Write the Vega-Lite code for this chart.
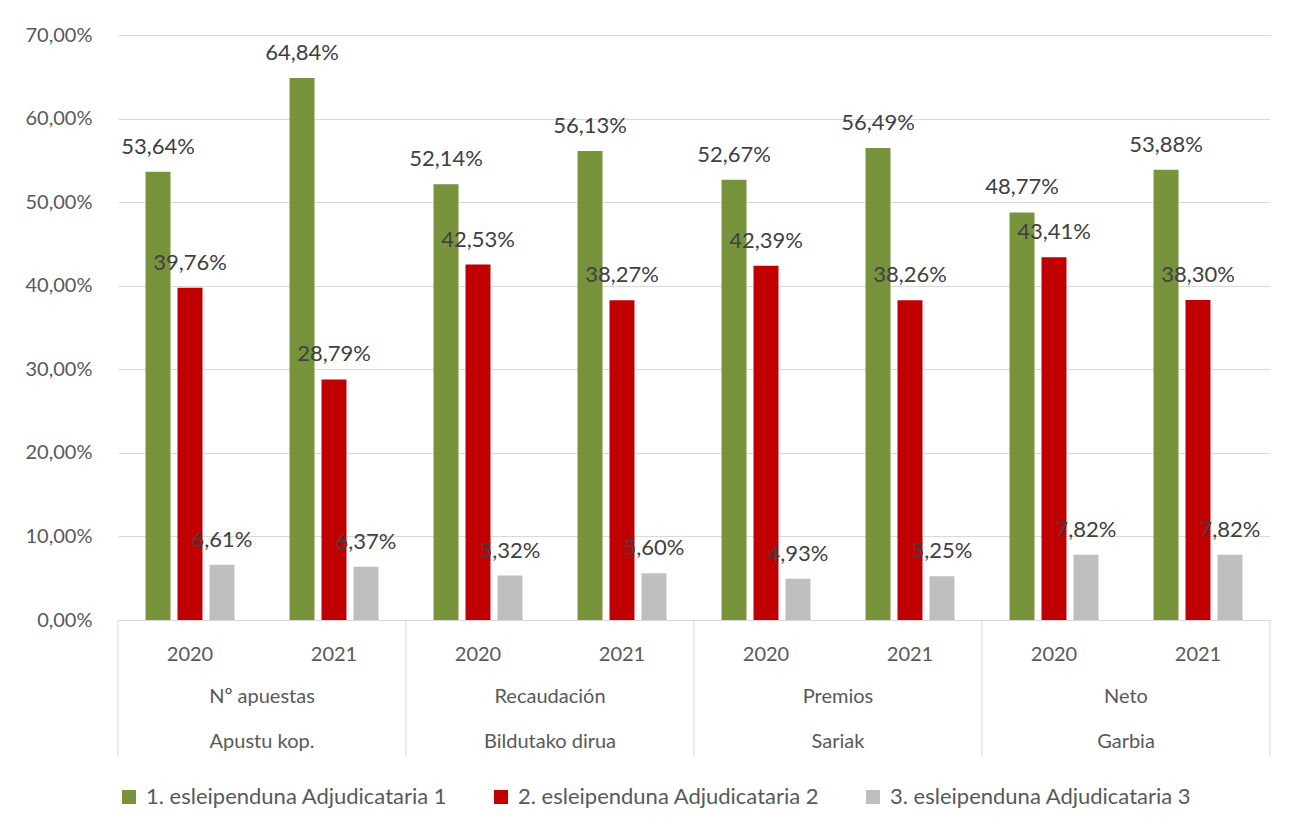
{
  "$schema": "https://vega.github.io/schema/vega-lite/v6.json",
  "width": 1152,
  "height": 585,
  "autosize": {"type": "none"},
  "padding": {"left": 118, "top": 35, "right": 36, "bottom": 212},
  "background": "white",
  "config": {
    "locale": {"number": {"decimal": ",", "thousands": ".", "grouping": [3], "currency": ["", " €"]}},
    "font": "Lato",
    "view": {"stroke": null},
    "axis": {"labelFont": "Lato", "labelFontSize": 20, "labelColor": "#595959"},
    "legend": {"labelFont": "Lato"}
  },
  "data": {
    "values": [
      {"grupo": "Nº apuestas|2020", "categoria": "Nº apuestas", "kategoria": "Apustu kop.", "urtea": "2020", "serie": "1. esleipenduna Adjudicataria 1", "valor": 0.5364},
      {"grupo": "Nº apuestas|2020", "categoria": "Nº apuestas", "kategoria": "Apustu kop.", "urtea": "2020", "serie": "2. esleipenduna Adjudicataria 2", "valor": 0.3976},
      {"grupo": "Nº apuestas|2020", "categoria": "Nº apuestas", "kategoria": "Apustu kop.", "urtea": "2020", "serie": "3. esleipenduna Adjudicataria 3", "valor": 0.0661},
      {"grupo": "Nº apuestas|2021", "categoria": "Nº apuestas", "kategoria": "Apustu kop.", "urtea": "2021", "serie": "1. esleipenduna Adjudicataria 1", "valor": 0.6484},
      {"grupo": "Nº apuestas|2021", "categoria": "Nº apuestas", "kategoria": "Apustu kop.", "urtea": "2021", "serie": "2. esleipenduna Adjudicataria 2", "valor": 0.2879},
      {"grupo": "Nº apuestas|2021", "categoria": "Nº apuestas", "kategoria": "Apustu kop.", "urtea": "2021", "serie": "3. esleipenduna Adjudicataria 3", "valor": 0.0637},
      {"grupo": "Recaudación|2020", "categoria": "Recaudación", "kategoria": "Bildutako dirua", "urtea": "2020", "serie": "1. esleipenduna Adjudicataria 1", "valor": 0.5214},
      {"grupo": "Recaudación|2020", "categoria": "Recaudación", "kategoria": "Bildutako dirua", "urtea": "2020", "serie": "2. esleipenduna Adjudicataria 2", "valor": 0.4253},
      {"grupo": "Recaudación|2020", "categoria": "Recaudación", "kategoria": "Bildutako dirua", "urtea": "2020", "serie": "3. esleipenduna Adjudicataria 3", "valor": 0.0532},
      {"grupo": "Recaudación|2021", "categoria": "Recaudación", "kategoria": "Bildutako dirua", "urtea": "2021", "serie": "1. esleipenduna Adjudicataria 1", "valor": 0.5613},
      {"grupo": "Recaudación|2021", "categoria": "Recaudación", "kategoria": "Bildutako dirua", "urtea": "2021", "serie": "2. esleipenduna Adjudicataria 2", "valor": 0.3827},
      {"grupo": "Recaudación|2021", "categoria": "Recaudación", "kategoria": "Bildutako dirua", "urtea": "2021", "serie": "3. esleipenduna Adjudicataria 3", "valor": 0.056},
      {"grupo": "Premios|2020", "categoria": "Premios", "kategoria": "Sariak", "urtea": "2020", "serie": "1. esleipenduna Adjudicataria 1", "valor": 0.5267},
      {"grupo": "Premios|2020", "categoria": "Premios", "kategoria": "Sariak", "urtea": "2020", "serie": "2. esleipenduna Adjudicataria 2", "valor": 0.4239},
      {"grupo": "Premios|2020", "categoria": "Premios", "kategoria": "Sariak", "urtea": "2020", "serie": "3. esleipenduna Adjudicataria 3", "valor": 0.0493},
      {"grupo": "Premios|2021", "categoria": "Premios", "kategoria": "Sariak", "urtea": "2021", "serie": "1. esleipenduna Adjudicataria 1", "valor": 0.5649},
      {"grupo": "Premios|2021", "categoria": "Premios", "kategoria": "Sariak", "urtea": "2021", "serie": "2. esleipenduna Adjudicataria 2", "valor": 0.3826},
      {"grupo": "Premios|2021", "categoria": "Premios", "kategoria": "Sariak", "urtea": "2021", "serie": "3. esleipenduna Adjudicataria 3", "valor": 0.0525},
      {"grupo": "Neto|2020", "categoria": "Neto", "kategoria": "Garbia", "urtea": "2020", "serie": "1. esleipenduna Adjudicataria 1", "valor": 0.4877},
      {"grupo": "Neto|2020", "categoria": "Neto", "kategoria": "Garbia", "urtea": "2020", "serie": "2. esleipenduna Adjudicataria 2", "valor": 0.4341},
      {"grupo": "Neto|2020", "categoria": "Neto", "kategoria": "Garbia", "urtea": "2020", "serie": "3. esleipenduna Adjudicataria 3", "valor": 0.0782},
      {"grupo": "Neto|2021", "categoria": "Neto", "kategoria": "Garbia", "urtea": "2021", "serie": "1. esleipenduna Adjudicataria 1", "valor": 0.5388},
      {"grupo": "Neto|2021", "categoria": "Neto", "kategoria": "Garbia", "urtea": "2021", "serie": "2. esleipenduna Adjudicataria 2", "valor": 0.383},
      {"grupo": "Neto|2021", "categoria": "Neto", "kategoria": "Garbia", "urtea": "2021", "serie": "3. esleipenduna Adjudicataria 3", "valor": 0.0782}
    ]
  },
  "layer": [
    {
      "mark": {"type": "bar"},
      "encoding": {
        "x": {
          "field": "grupo", "type": "nominal", "sort": null,
          "scale": {"paddingInner": 0, "paddingOuter": 0},
          "axis": {
            "title": null, "orient": "bottom", "labelExpr": "split(datum.value, '|')[1]", "labelAngle": 0,
            "ticks": false, "domain": true, "domainColor": "#D9D9D9", "domainWidth": 1,
            "labelPadding": 24, "labelOverlap": false, "grid": false
          }
        },
        "xOffset": {"field": "serie", "type": "nominal", "sort": null, "scale": {"paddingInner": 0.219, "paddingOuter": 0.86}},
        "y": {
          "field": "valor", "type": "quantitative",
          "scale": {"domain": [0, 0.7], "nice": false},
          "axis": {
            "title": null, "values": [0, 0.1, 0.2, 0.3, 0.4, 0.5, 0.6, 0.7], "format": ".2%",
            "grid": true, "gridColor": "#D9D9D9", "gridWidth": 1,
            "domain": false, "ticks": false, "labelPadding": 26
          }
        },
        "color": {
          "field": "serie", "type": "nominal", "sort": null,
          "scale": {"range": ["#77933C", "#C00000", "#BFBFBF"]},
          "legend": {
            "orient": "bottom", "direction": "horizontal", "title": null,
            "symbolType": "square", "symbolSize": 196, "symbolStrokeWidth": 0,
            "labelFontSize": 22, "labelColor": "#595959", "labelLimit": 0, "columnPadding": 42,
            "labelOffset": 6, "offset": 122
          }
        }
      }
    },
    {
      "mark": {"type": "text", "dy": -18, "baseline": "alphabetic", "fontSize": 22, "color": "#404040", "font": "Lato"},
      "encoding": {
        "x": {"field": "grupo", "type": "nominal", "sort": null},
        "xOffset": {"field": "serie", "type": "nominal", "sort": null},
        "y": {"field": "valor", "type": "quantitative"},
        "text": {"field": "valor", "type": "quantitative", "format": ".2%"}
      }
    },
    {
      "transform": [{"filter": "datum.urtea == '2020' && indexof(datum.serie, '1.') == 0"}],
      "mark": {"type": "rule", "color": "#D9D9D9", "strokeWidth": 1},
      "encoding": {
        "x": {"field": "grupo", "type": "nominal", "sort": null, "bandPosition": 0},
        "y": {"datum": 0},
        "y2": {"datum": -0.164}
      }
    },
    {
      "transform": [{"filter": "datum.grupo == 'Neto|2021' && indexof(datum.serie, '1.') == 0"}],
      "mark": {"type": "rule", "color": "#D9D9D9", "strokeWidth": 1},
      "encoding": {
        "x": {"field": "grupo", "type": "nominal", "sort": null, "bandPosition": 1},
        "y": {"datum": 0},
        "y2": {"datum": -0.164}
      }
    },
    {
      "transform": [{"filter": "datum.urtea == '2020' && indexof(datum.serie, '1.') == 0"}],
      "mark": {"type": "text", "baseline": "middle", "align": "center", "dy": 77, "fontSize": 20, "color": "#595959", "font": "Lato"},
      "encoding": {
        "x": {"field": "grupo", "type": "nominal", "sort": null, "bandPosition": 1},
        "y": {"datum": 0},
        "text": {"field": "categoria", "type": "nominal"}
      }
    },
    {
      "transform": [{"filter": "datum.urtea == '2020' && indexof(datum.serie, '1.') == 0"}],
      "mark": {"type": "text", "baseline": "middle", "align": "center", "dy": 122, "fontSize": 20, "color": "#595959", "font": "Lato"},
      "encoding": {
        "x": {"field": "grupo", "type": "nominal", "sort": null, "bandPosition": 1},
        "y": {"datum": 0},
        "text": {"field": "kategoria", "type": "nominal"}
      }
    }
  ]
}
